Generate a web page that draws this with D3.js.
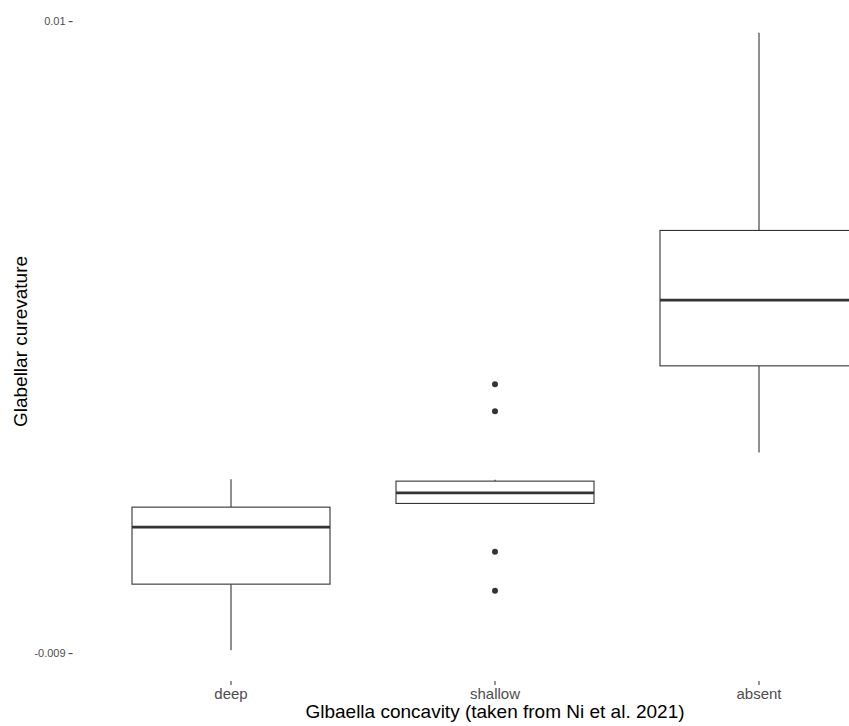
<!DOCTYPE html>
<html>
<head>
<meta charset="utf-8">
<script src="https://cdn.jsdelivr.net/npm/d3@7"></script>
<style>
  body { margin: 0; background: #fff; }
  text { font-family: "Liberation Sans", Arial, sans-serif; }
</style>
</head>
<body>
<div id="chart"></div>
<script>
const width = 849, height = 726;

// data
const categories = ["deep", "shallow", "absent"];
const whiskerLow = [-0.00891, -0.004506, -0.002966];
const q1 = [-0.006926, -0.0045, -0.000363];
const median = [-0.005212, -0.004181, 0.001612];
const q3 = [-0.004611, -0.003829, 0.003708];
const whiskerHigh = [-0.003769, -0.003784, 0.009648];
const outliers = [[], [-0.000913, -0.001725, -0.005955, -0.007127], []];
const yTicks = [0.01, -0.009];

const margin = { top: 2, left: 72.6, bottom: 45 };
const panelRight = 917.4; // panel runs past the crop on the right

const svg = d3
  .select("#chart")
  .append("svg")
  .attr("width", width)
  .attr("height", height);

const lo = d3.min(whiskerLow), hi = d3.max(whiskerHigh);
const pad = (hi - lo) * 0.05;

let y = d3
  .scaleLinear()
  .domain([lo - pad, hi + pad])
  .range([height - margin.bottom, margin.top]);

let x = d3
  .scaleBand()
  .domain(categories)
  .range([margin.left, panelRight])
  .paddingInner(0.25)
  .paddingOuter(0.225);

// y axis (ticks + labels only), plain hyphen for the minus
const yAxis = svg
  .append("g")
  .attr("transform", `translate(${margin.left},0)`)
  .call(d3.axisLeft(y).tickValues(yTicks).tickSize(4).tickPadding(3).tickFormat((d) => String(d)));
yAxis.select(".domain").remove();
yAxis.selectAll("line").attr("stroke", "#333333").attr("stroke-width", 1);
yAxis.selectAll("text").attr("fill", "#4D4D4D").style("font-size", "11px").style("font-family", "Liberation Sans, Arial, sans-serif");

// x axis
const xAxis = svg
  .append("g")
  .attr("transform", `translate(0,${height - margin.bottom})`)
  .call(d3.axisBottom(x).tickSize(4).tickPadding(3));
xAxis.select(".domain").remove();
xAxis.selectAll("line").attr("stroke", "#333333").attr("stroke-width", 1);
xAxis.selectAll("text").attr("fill", "#4D4D4D").style("font-size", "15px").style("font-family", "Liberation Sans, Arial, sans-serif");

// boxes
const ink = "#333333";
categories.forEach((c, i) => {
  const g = svg.append("g").attr("class", "box");
  const cx = x(c) + x.bandwidth() / 2;

  g.append("line")
    .attr("x1", cx).attr("x2", cx)
    .attr("y1", y(whiskerHigh[i])).attr("y2", y(q3[i]))
    .attr("stroke", ink).attr("stroke-width", 1.1);
  g.append("line")
    .attr("x1", cx).attr("x2", cx)
    .attr("y1", y(q1[i])).attr("y2", y(whiskerLow[i]))
    .attr("stroke", ink).attr("stroke-width", 1.1);

  g.append("rect")
    .attr("x", x(c))
    .attr("y", y(q3[i]))
    .attr("width", x.bandwidth())
    .attr("height", y(q1[i]) - y(q3[i]))
    .attr("fill", "white")
    .attr("stroke", ink)
    .attr("stroke-width", 1.1);

  g.append("line")
    .attr("x1", x(c)).attr("x2", x(c) + x.bandwidth())
    .attr("y1", y(median[i])).attr("y2", y(median[i]))
    .attr("stroke", ink).attr("stroke-width", 2.6);

  g.selectAll("circle")
    .data(outliers[i])
    .join("circle")
    .attr("cx", cx)
    .attr("cy", (d) => y(d))
    .attr("r", 3)
    .attr("fill", ink);
});

// axis titles
svg
  .append("text")
  .attr("x", (margin.left + panelRight) / 2)
  .attr("y", 718)
  .attr("text-anchor", "middle")
  .style("font-size", "19px")
  .attr("fill", "black")
  .text("Glbaella concavity (taken from Ni et al. 2021)");

svg
  .append("text")
  .attr("transform", `translate(27,${(margin.top + height - margin.bottom) / 2}) rotate(-90)`)
  .attr("text-anchor", "middle")
  .style("font-size", "19px")
  .attr("fill", "black")
  .text("Glabellar curevature");
</script>
</body>
</html>
